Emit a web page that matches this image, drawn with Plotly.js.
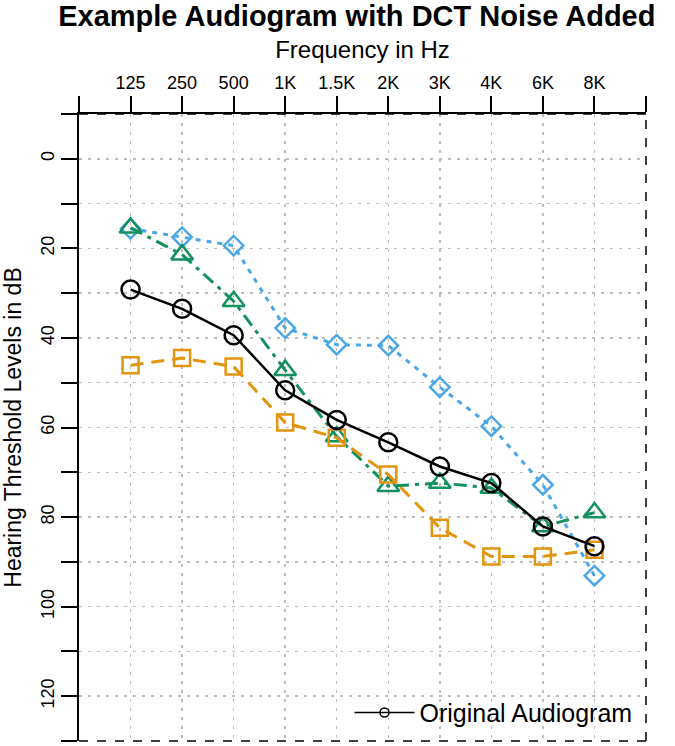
<!DOCTYPE html>
<html>
<head>
<meta charset="utf-8">
<script src="https://cdn.plot.ly/plotly-3.0.1.min.js"></script>
<style>html,body{margin:0;padding:0;background:#fff;}#chart{width:675px;height:746px;}</style>
</head>
<body>
<div id="chart"></div>
<script>
// Frequencies (categorical positions 1..10)
const freqLabels = ["125", "250", "500", "1K", "1.5K", "2K", "3K", "4K", "6K", "8K"];
const freqPos = [1, 2, 3, 4, 5, 6, 7, 8, 9, 10];

// Hearing thresholds in dB
const original = [29.2, 33.5, 39.4, 51.7, 58.3, 63.3, 68.7, 72.4, 82.1, 86.5];
const noiseOrange = [46.1, 44.5, 46.4, 58.9, 62.3, 70.5, 82.4, 88.8, 88.8, 87.3];
const noiseGreen = [15.4, 21.4, 31.8, 47.2, 62.0, 73.1, 72.4, 73.5, 82.1, 79.0];
const noiseBlue = [15.6, 17.5, 19.4, 37.8, 41.5, 41.7, 51.0, 59.7, 72.8, 93.1];

const yTickVals = [-10, 0, 10, 20, 30, 40, 50, 60, 70, 80, 90, 100, 110, 120, 130];
const yTickText = ["", "0", "", "20", "", "40", "", "60", "", "80", "", "100", "", "120", ""];

const FONT = "Liberation Sans, Arial, Helvetica, sans-serif";

const traces = [
  {
    x: freqPos, y: noiseBlue, mode: "lines+markers", showlegend: false,
    line: {color: "#4BA6E6", width: 3, dash: "5px,6px"},
    marker: {symbol: "diamond-open", size: 15, color: "#4BA6E6", line: {width: 2.5, color: "#4BA6E6"}}
  },
  {
    x: freqPos, y: noiseGreen, mode: "lines+markers", showlegend: false,
    line: {color: "#12915F", width: 3, dash: "13px,6px,4px,6px"},
    marker: {symbol: "triangle-up-open", size: 19, color: "#12915F", line: {width: 2.5, color: "#12915F"}}
  },
  {
    x: freqPos, y: noiseOrange, mode: "lines+markers", showlegend: false,
    line: {color: "#E3940E", width: 3, dash: "13px,8px"},
    marker: {symbol: "square-open", size: 16, color: "#E3940E", line: {width: 2.5, color: "#E3940E"}}
  },
  {
    x: freqPos, y: original, mode: "lines+markers", showlegend: false,
    line: {color: "#000", width: 2.5},
    marker: {symbol: "circle-open", size: 18, color: "#000", line: {width: 2.5, color: "#000"}}
  },
  {
    x: [null], y: [null], mode: "lines+markers", name: "Original Audiogram", showlegend: true,
    line: {color: "#000", width: 1.5},
    marker: {symbol: "circle-open", size: 9, color: "#000", line: {width: 1.5, color: "#000"}}
  }
];

const layout = {
  width: 675, height: 746,
  margin: {l: 79, r: 29, t: 114, b: 5, pad: 0},
  paper_bgcolor: "#fff", plot_bgcolor: "#fff",
  font: {family: FONT, color: "#000"},
  title: {
    text: "<b>Example Audiogram with DCT Noise Added</b>",
    font: {family: FONT, size: 29, color: "#000"},
    x: 0.49, xref: "paper", xanchor: "center",
    y: 1 - 16 / 746, yref: "container", yanchor: "middle"
  },
  xaxis: {
    side: "top", range: [0, 11], fixedrange: true,
    tickmode: "array", tickvals: [0].concat(freqPos).concat([11]),
    ticktext: [""].concat(freqLabels).concat([""]),
    ticks: "outside", ticklen: 16, tickwidth: 2, tickcolor: "#000",
    tickfont: {family: FONT, size: 18, color: "#000"},
    showline: true, linecolor: "#000", linewidth: 2,
    showgrid: true, gridcolor: "#bdbdbd", gridwidth: 1.5, griddash: "3px,6px",
    zeroline: false, automargin: false,
    title: {text: "Frequency in Hz", font: {family: FONT, size: 24, color: "#000"}, standoff: 7}
  },
  yaxis: {
    range: [130, -10], fixedrange: true,
    tickmode: "array", tickvals: yTickVals, ticktext: yTickText,
    tickangle: -90,
    ticks: "outside", ticklen: 16, tickwidth: 2, tickcolor: "#000",
    tickfont: {family: FONT, size: 18, color: "#000"},
    showline: true, linecolor: "#000", linewidth: 2,
    showgrid: true, gridcolor: "#bdbdbd", gridwidth: 1.5, griddash: "3px,6px",
    zeroline: false, automargin: false,
    title: {text: "Hearing Threshold Levels in dB", font: {family: FONT, size: 23, color: "#000"}, standoff: 10}
  },
  shapes: [
    {type: "line", xref: "paper", yref: "paper", x0: 1, x1: 1, y0: 0, y1: 1, line: {color: "#000", width: 1.5, dash: "dash"}},
    {type: "line", xref: "paper", yref: "paper", x0: 0, x1: 1, y0: 0, y1: 0, line: {color: "#000", width: 1.5, dash: "dash"}},
    {type: "line", xref: "paper", yref: "paper", x0: 0, x1: 1, y0: 1, y1: 1, line: {color: "#000", width: 1.5, dash: "dash"}}
  ],
  legend: {
    x: 0.985, xanchor: "right", y: 0.045, yanchor: "middle",
    bgcolor: "rgba(0,0,0,0)", borderwidth: 0, itemwidth: 60,
    font: {family: FONT, size: 25, color: "#000"}
  },
  showlegend: true
};

Plotly.newPlot("chart", traces, layout, {displayModeBar: false, staticPlot: true});
</script>
</body>
</html>
